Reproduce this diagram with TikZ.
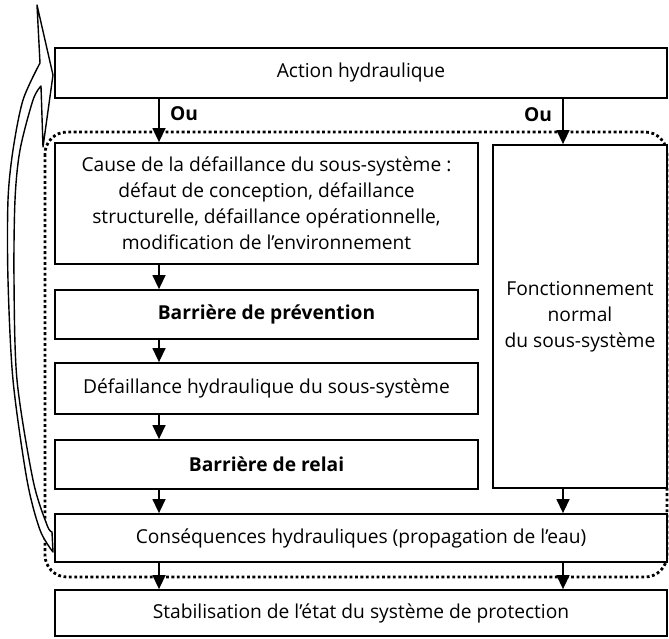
\documentclass[tikz,border=0pt]{standalone}
\usepackage{fontspec}
\setmainfont{Open Sans}
\usetikzlibrary{arrows.meta}

\begin{document}
\begin{tikzpicture}[x=1pt,y=-1pt]
		\useasboundingbox (0,0) rectangle (669,638);
		\fontsize{19.2}{26}\selectfont

		% limite du sous-systeme
		\draw[line width=2.8pt, dash pattern=on 2.8pt off 2.6pt, rounded corners=22pt]
			(45,132) rectangle (667,577);

		% boucle de retour
		\draw[line width=1.4pt, fill=white, line join=round]
			(37,5) -- (53,75) -- (43,147) -- (41,86)
			-- plot[smooth] coordinates {(41,86) (33,100) (20,150) (15,200) (14,280) (17,380) (33,480) (47,525) (52,532)}
			-- (53,552)
			-- plot[smooth] coordinates {(53,552) (40,530) (27,480) (13,380) (8,280) (8,200) (13,150) (23,100) (40,63)}
			-- cycle;

		\begin{scope}[every node/.style={draw,line width=1.8pt,fill=white,inner sep=0pt,align=center}]
		    \node[minimum width=612pt,minimum height=50pt] (action) at (361,73) {Action hydraulique};
		    \node[minimum width=423pt,minimum height=121pt] (cause) at (266.5,203.5)
		    	{Cause de la défaillance du sous-système :\\défaut de conception, défaillance\\structurelle, défaillance opérationnelle,\\modification de l’environnement};
		    \node[minimum width=423pt,minimum height=49pt,font=\bfseries] (prevention) at (266.5,314.5) {Barrière de prévention};
		    \node[minimum width=423pt,minimum height=51pt] (defaillance) at (266.5,388.5) {Défaillance hydraulique du sous-système};
		    \node[minimum width=423pt,minimum height=49pt,font=\bfseries] (relai) at (266.5,464.5) {Barrière de relai};
		    \node[minimum width=174pt,minimum height=343pt] (normal) at (580,316.5) {Fonctionnement\\normal\\du sous-système};
		    \node[minimum width=612pt,minimum height=48pt] (consequences) at (361,538) {Conséquences hydrauliques (propagation de l’eau)};
		    \node[minimum width=612pt,minimum height=46pt] (stabilisation) at (361,613) {Stabilisation de l’état du système de protection};
		\end{scope}

		\coordinate (gauche) at (159,0);
		\coordinate (droite) at (563,0);

		\begin{scope}[>={Triangle[width=13pt,length=14pt]},
		              every node/.style={font=\bfseries},
		              every edge/.style={draw=black,line width=1.4pt,->}]
			\path (action.south -| gauche) edge node[pos=0.35,right=4pt] {Ou} (cause.north -| gauche);
			\path (action.south -| droite) edge node[pos=0.35,left=4pt] {Ou} (normal.north -| droite);
			\path (cause.south -| gauche) edge (prevention.north -| gauche);
			\path (prevention.south -| gauche) edge (defaillance.north -| gauche);
			\path (defaillance.south -| gauche) edge (relai.north -| gauche);
			\path (relai.south -| gauche) edge (consequences.north -| gauche);
			\path (normal.south -| droite) edge (consequences.north -| droite);
			\path (consequences.south -| gauche) edge (stabilisation.north -| gauche);
			\path (consequences.south -| droite) edge (stabilisation.north -| droite);
		\end{scope}
\end{tikzpicture}
\end{document}
